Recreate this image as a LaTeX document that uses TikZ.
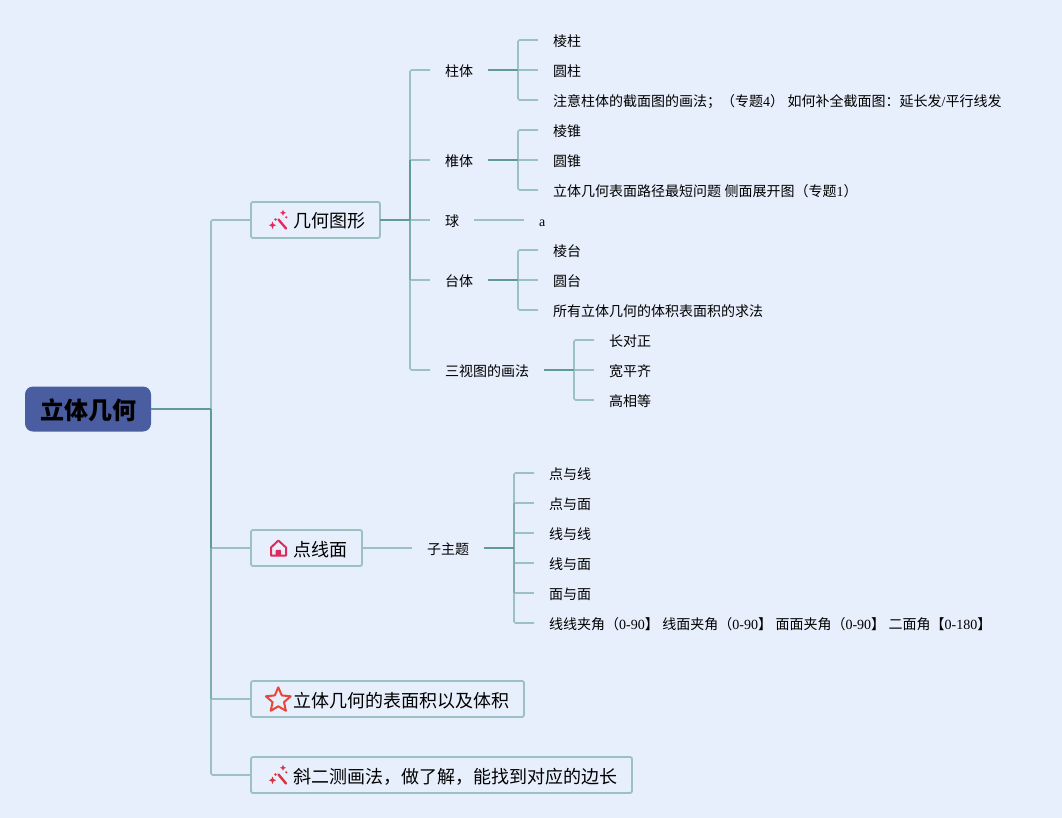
\documentclass[tikz,border=0pt]{standalone}
\usepackage{fontspec}
\setmainfont{Noto Sans CJK SC}
\newfontfamily\latf{Liberation Serif}
\newcommand{\lat}[1]{{\latf #1}}
\definecolor{bgc}{HTML}{E7EFFC}
\definecolor{rootc}{HTML}{4A5DA0}
\definecolor{lightc}{HTML}{9CC1C5}
\definecolor{midc}{HTML}{80AEB0}
\definecolor{darkc}{HTML}{5F9A98}
\definecolor{wandc}{HTML}{E8295F}
\definecolor{wandd}{HTML}{D8323F}
\definecolor{housec}{HTML}{DD2B5E}
\definecolor{starc}{HTML}{E8463A}
\tikzset{
  x=1pt,y=-1pt,
  lt/.style={draw=lightc,line width=1.6pt,rounded corners=1.5pt},
  md/.style={draw=midc,line width=1.7pt},
  dk/.style={draw=darkc,line width=1.8pt},
  rootbox/.style={fill=rootc,rounded corners=8pt,minimum width=126pt,minimum height=45pt,inner sep=0pt,font=\fontsize{24}{24}\selectfont\bfseries,text=black,text height=22.2pt,text depth=1pt},
  mainbox/.style={draw=lightc,line width=1.8pt,rounded corners=2pt,fill=bgc,anchor=west,outer sep=0pt,minimum height=36pt,inner xsep=15pt,inner ysep=0pt,font=\fontsize{18}{18}\selectfont,text height=18pt,text depth=2pt},
  leaf/.style={anchor=west,inner xsep=15pt,inner ysep=0pt,font=\fontsize{14}{14}\selectfont,text height=14pt,text depth=1.4pt},
  icon/.style={line width=2pt,line cap=round,line join=round}
}
\newcommand{\wand}[3]{%
  \begin{scope}[yshift=-#1pt]
    \draw[#2,line width=2.4pt,line cap=round] (278.5,219.5) -- (286,228.5);
    \fill[#2] (283,209.8) -- (283.9,211.9) -- (286,212.8) -- (283.9,213.7) -- (283,215.8) -- (282.1,213.7) -- (280,212.8) -- (282.1,211.9) -- cycle;
    \fill[#3] (272.5,221.5) -- (273.6,224.1) -- (276.2,225.2) -- (273.6,226.3) -- (272.5,228.9) -- (271.4,226.3) -- (268.8,225.2) -- (271.4,224.1) -- cycle;
    \fill[#2] (275.5,219.5) circle (1.4pt);
    \fill[#3] (286.3,217.3) circle (1.2pt);
  \end{scope}}
\begin{document}
\begin{tikzpicture}
\fill[bgc] (0,0) rectangle (1062,818);
\useasboundingbox (0,0) rectangle (1062,818);
% nodes
\node[rootbox] (root) at (88,409) {立体几何};
\node[mainbox] (geo) at (251,220) {\hspace*{27pt}几何图形};
\node[mainbox] (dxm) at (251,548) {\hspace*{27pt}点线面};
\node[mainbox] (bmj) at (251,699) {\hspace*{27pt}立体几何的表面积以及体积};
\node[mainbox] (xec) at (251,775) {\hspace*{27pt}斜二测画法，做了解，能找到对应的边长};
% level 2 of geo
\node[leaf] (zhu) at (430,70) {柱体};
\node[leaf] (zhui) at (430,160) {椎体};
\node[leaf] (qiu) at (430,220) {球};
\node[leaf] (tai) at (430,280) {台体};
\node[leaf] (sst) at (430,370) {三视图的画法};
\node[leaf] (zi) at (412,548) {子主题};
% leaves
\node[leaf] (a1) at (538,40) {棱柱};
\node[leaf] (a2) at (538,70) {圆柱};
\node[leaf] (a3) at (538,100) {注意柱体的截面图的画法；（专题\lat{4}）\lat{ }如何补全截面图：延长发\lat{/}平行线发};
\node[leaf] (b1) at (538,130) {棱锥};
\node[leaf] (b2) at (538,160) {圆锥};
\node[leaf] (b3) at (538,190) {立体几何表面路径最短问题\lat{ }侧面展开图（专题\lat{1}）};
\node[leaf] (c1) at (524,220) {\lat{a}};
\node[leaf] (d1) at (538,250) {棱台};
\node[leaf] (d2) at (538,280) {圆台};
\node[leaf] (d3) at (538,310) {所有立体几何的体积表面积的求法};
\node[leaf] (e1) at (594,340) {长对正};
\node[leaf] (e2) at (594,370) {宽平齐};
\node[leaf] (e3) at (594,400) {高相等};
\node[leaf] (f1) at (534,473) {点与线};
\node[leaf] (f2) at (534,503) {点与面};
\node[leaf] (f3) at (534,533) {线与线};
\node[leaf] (f4) at (534,563) {线与面};
\node[leaf] (f5) at (534,593) {面与面};
\node[leaf] (f6) at (534,623) {线线夹角（\lat{0-90}】\lat{ }线面夹角（\lat{0-90}】\lat{ }面面夹角（\lat{0-90}】\lat{ }二面角【\lat{0-180}】};
% junctions
\coordinate (jr) at (211,409);
\coordinate (jg) at (410,220);
\coordinate (jz) at (518,70);
\coordinate (jy) at (518,160);
\coordinate (jt) at (518,280);
\coordinate (js) at (574,370);
\coordinate (jf) at (514,548);
% root branches
\draw[lt] (jr) |- (geo.west);
\draw[lt] (jr) |- (xec.west);
\draw[lt] (jr |- dxm.west) -- (dxm.west);
\draw[lt] (jr |- bmj.west) -- (bmj.west);
\draw[md] (jr |- dxm.west) -- (jr |- bmj.west);
\draw[dk] (jr) -- (jr |- dxm.west);
\draw[dk] (root.east) -- (jr);
% geo branches
\draw[lt] (jg) |- (zhu.west);
\draw[lt] (jg) |- (sst.west);
\draw[lt] (jg |- zhui.west) -- (zhui.west);
\draw[lt] (jg) -- (qiu.west);
\draw[lt] (jg |- tai.west) -- (tai.west);
\draw[md] (jg) -- (jg |- tai.west);
\draw[dk] (jg |- zhui.west) -- (jg);
\draw[dk] (geo.east) -- (jg);
% sub branches
\draw[lt] (jz) |- (a1.west);
\draw[lt] (jz) |- (a3.west);
\draw[lt] (jz) -- (a2.west);
\draw[dk] (zhu.east) -- (jz);
\draw[lt] (jy) |- (b1.west);
\draw[lt] (jy) |- (b3.west);
\draw[lt] (jy) -- (b2.west);
\draw[dk] (zhui.east) -- (jy);
\draw[lt] (qiu.east) -- (c1.west);
\draw[lt] (jt) |- (d1.west);
\draw[lt] (jt) |- (d3.west);
\draw[lt] (jt) -- (d2.west);
\draw[dk] (tai.east) -- (jt);
\draw[lt] (js) |- (e1.west);
\draw[lt] (js) |- (e3.west);
\draw[lt] (js) -- (e2.west);
\draw[dk] (sst.east) -- (js);
\draw[lt] (dxm.east) -- (zi.west);
\draw[lt] (jf) |- (f1.west);
\draw[lt] (jf) |- (f6.west);
\draw[lt] (jf |- f2.west) -- (f2.west);
\draw[lt] (jf |- f3.west) -- (f3.west);
\draw[lt] (jf |- f4.west) -- (f4.west);
\draw[lt] (jf |- f5.west) -- (f5.west);
\draw[md] (jf |- f2.west) -- (jf |- f5.west);
\draw[dk] (zi.east) -- (jf);
% icons
\wand{0}{wandc}{wandc}
\wand{555}{wandd}{wandd}
\draw[housec,icon] (271,547.5) -- (278.4,540.5) -- (286,547.5) -- (286,555.5) -- (271,555.5) -- cycle;
\fill[housec,rounded corners=1pt] (275.5,556) -- (275.5,549.8) -- (281.2,549.8) -- (281.2,556) -- cycle;
\draw[starc,icon] (278.3,687.3) -- (281.8,695.4) -- (290.7,696.3) -- (284,702.2) -- (285.9,710.8) -- (278.3,706.3) -- (270.7,710.8) -- (272.6,702.2) -- (265.9,696.3) -- (274.8,695.4) -- cycle;
\end{tikzpicture}
\end{document}
